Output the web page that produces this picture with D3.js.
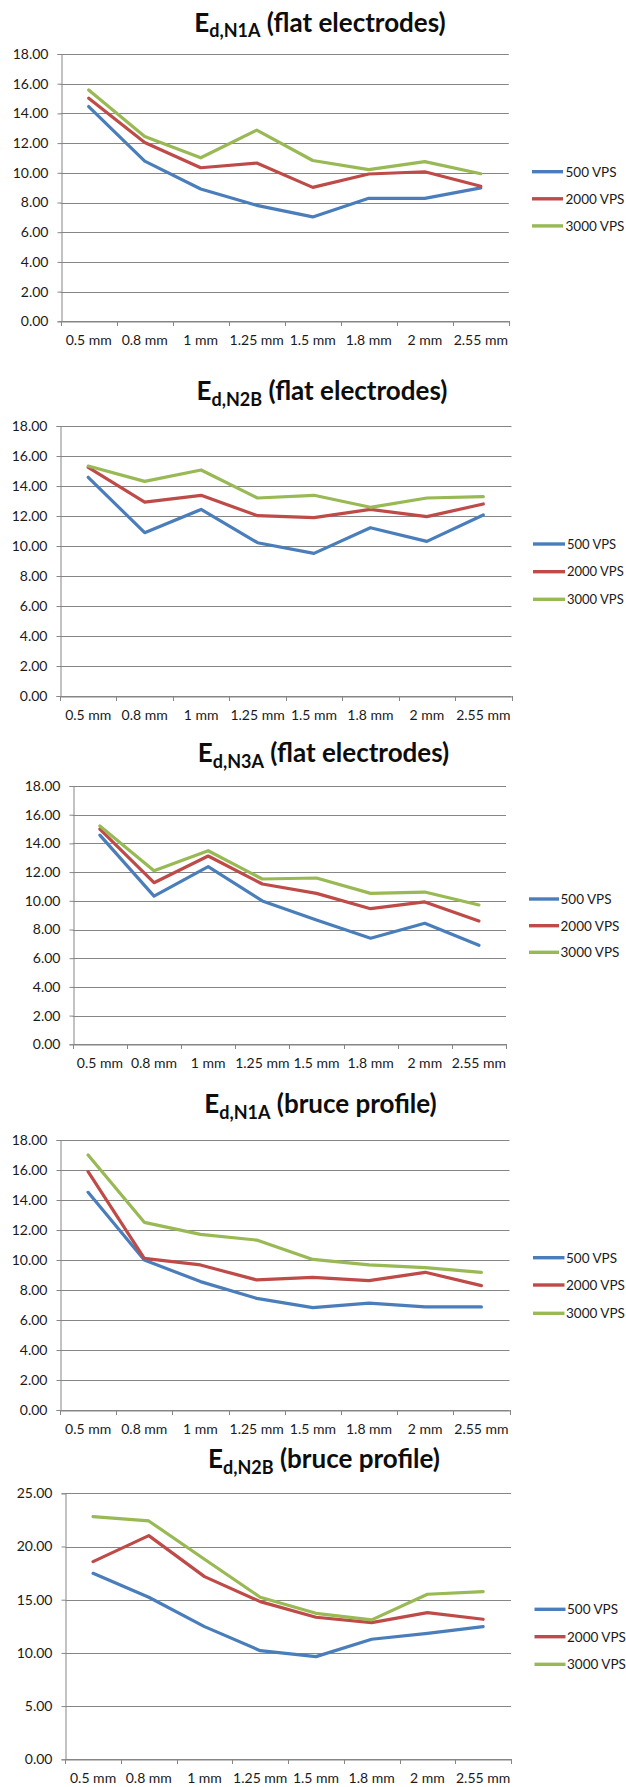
<!DOCTYPE html>
<html>
<head>
<meta charset="utf-8">
<script src="https://cdn.jsdelivr.net/npm/d3@7"></script>
<style>
  html, body { margin: 0; padding: 0; background: #ffffff; }
  svg { display: block; }
  text { font-family: Lato, "Open Sans", "Liberation Sans", sans-serif; fill: #1a1a1a; }
</style>
</head>
<body>
<svg id="fig" width="626" height="1787"></svg>
<script>
// Electrode spacing categories shared by every panel
const categories = ["0.5 mm", "0.8 mm", "1 mm", "1.25 mm", "1.5 mm", "1.8 mm", "2 mm", "2.55 mm"];
const seriesNames = ["500 VPS", "2000 VPS", "3000 VPS"];
const seriesColors = ["#4A7EBB", "#BE4B48", "#98B954"];

const ticks18 = [0, 2, 4, 6, 8, 10, 12, 14, 16, 18];
const ticks25 = [0, 5, 10, 15, 20, 25];

// E_d,N1A, flat electrodes
const flatN1A_500  = [14.46, 10.79, 8.91, 7.81, 7.03, 8.28, 8.28, 8.98];
const flatN1A_2000 = [15.02, 12.04, 10.34, 10.66, 9.02, 9.92, 10.07, 9.09];
const flatN1A_3000 = [15.58, 12.45, 11.01, 12.87, 10.83, 10.21, 10.75, 9.94];

// E_d,N2B, flat electrodes
const flatN2B_500  = [14.58, 10.89, 12.44, 10.22, 9.51, 11.22, 10.31, 12.07];
const flatN2B_2000 = [15.24, 12.93, 13.38, 12.02, 11.89, 12.44, 11.96, 12.80];
const flatN2B_3000 = [15.33, 14.31, 15.07, 13.20, 13.38, 12.58, 13.20, 13.29];

// E_d,N3A, flat electrodes
const flatN3A_500  = [14.58, 10.33, 12.38, 9.99, 8.66, 7.39, 8.43, 6.90];
const flatN3A_2000 = [15.00, 11.26, 13.12, 11.17, 10.52, 9.45, 9.92, 8.59];
const flatN3A_3000 = [15.21, 12.10, 13.49, 11.52, 11.59, 10.52, 10.61, 9.71];

// E_d,N1A, bruce profile
const bruceN1A_500  = [14.51, 10.00, 8.56, 7.44, 6.82, 7.13, 6.87, 6.87];
const bruceN1A_2000 = [15.89, 10.11, 9.67, 8.67, 8.84, 8.62, 9.18, 8.29];
const bruceN1A_3000 = [17.00, 12.51, 11.71, 11.33, 10.04, 9.67, 9.49, 9.18];

// E_d,N2B, bruce profile
const bruceN2B_500  = [17.48, 15.23, 12.47, 10.21, 9.65, 11.28, 11.84, 12.47];
const bruceN2B_2000 = [18.58, 21.02, 17.17, 14.82, 13.35, 12.84, 13.78, 13.16];
const bruceN2B_3000 = [22.81, 22.40, 18.80, 15.23, 13.72, 13.10, 15.51, 15.76];

const panels = [
  { sub: "d,N1A", rest: " (flat electrodes)", series: [flatN1A_500, flatN1A_2000, flatN1A_3000], ticks: ticks18,
    titleX: 320, titleY: 31.7, left: 60.7, right: 508.8, top: 54, bottom: 321.3,
    legX0: 532, legX1: 563, legText: 565.5, legSize: 13.5, legY: [171.7, 198.8, 225.9] },
  { sub: "d,N2B", rest: " (flat electrodes)", series: [flatN2B_500, flatN2B_2000, flatN2B_3000], ticks: ticks18,
    titleX: 322, titleY: 400, left: 60, right: 511.5, top: 426, bottom: 696,
    legX0: 533, legX1: 565, legText: 567, legSize: 13, legY: [544, 571.7, 599.3] },
  { sub: "d,N3A", rest: " (flat electrodes)", series: [flatN3A_500, flatN3A_2000, flatN3A_3000], ticks: ticks18,
    titleX: 323.5, titleY: 762.3, left: 72.8, right: 506, top: 786, bottom: 1044.3,
    legX0: 529, legX1: 559, legText: 560.5, legSize: 13.5, legY: [899, 925.7, 952.3] },
  { sub: "d,N1A", rest: " (bruce profile)", series: [bruceN1A_500, bruceN1A_2000, bruceN1A_3000], ticks: ticks18,
    titleX: 320.5, titleY: 1113.3, left: 60, right: 509.5, top: 1140, bottom: 1410,
    legX0: 533, legX1: 564.5, legText: 566, legSize: 13.5, legY: [1257.7, 1285, 1313.3] },
  { sub: "d,N2B", rest: " (bruce profile)", series: [bruceN2B_500, bruceN2B_2000, bruceN2B_3000], ticks: ticks25,
    titleX: 324, titleY: 1468.3, left: 65.2, right: 511, top: 1493.3, bottom: 1759.3,
    legX0: 534.5, legX1: 565.5, legText: 567, legSize: 13.5, legY: [1609.3, 1636.7, 1664.3] }
];

const svg = d3.select("#fig");
const gridColor = "#868686";
const fmt = d3.format(".2f");
const fontStack = "Lato, 'Open Sans', 'Liberation Sans', sans-serif";

panels.forEach(p => {
  const g = svg.append("g");
  const yMax = p.ticks[p.ticks.length - 1];

  const x = d3.scaleBand().domain(categories).range([p.left, p.right]).padding(0);
  const y = d3.scaleLinear().domain([0, yMax]).range([p.bottom, p.top]);

  // Title with subscript
  const title = g.append("text")
    .attr("x", p.titleX).attr("y", p.titleY)
    .attr("text-anchor", "middle")
    .style("font-weight", 700)
    .style("fill", "#0d0d0d");
  title.append("tspan").style("font-size", "26px").text("E");
  title.append("tspan").style("font-size", "18px").attr("dy", 5.5).text(p.sub);
  title.append("tspan").style("font-size", "26px").attr("dy", -5.5).text(p.rest);

  // Horizontal gridlines
  g.append("g").selectAll("line")
    .data(p.ticks)
    .join("line")
    .attr("x1", p.left).attr("x2", p.right)
    .attr("y1", d => Math.round(y(d)) + 0.5).attr("y2", d => Math.round(y(d)) + 0.5)
    .attr("stroke", gridColor).attr("stroke-width", 1);

  // Y axis
  const yAxis = g.append("g")
    .attr("transform", `translate(${Math.round(p.left) + 0.5},0)`)
    .call(d3.axisLeft(y).tickValues(p.ticks).tickFormat(fmt).tickSize(4).tickPadding(9));
  yAxis.select(".domain").attr("stroke", gridColor);
  yAxis.selectAll(".tick line").attr("stroke", gridColor);
  yAxis.selectAll(".tick text")
    .style("font-size", "14px")
    .style("font-family", fontStack)
    .attr("fill", "#1a1a1a");

  // X axis: labels centred in each category, tick marks on category boundaries
  const xAxis = g.append("g")
    .attr("transform", `translate(0,${Math.round(p.bottom) + 0.5})`)
    .call(d3.axisBottom(x).tickSize(0).tickPadding(14));
  xAxis.select(".domain").attr("stroke", gridColor);
  xAxis.selectAll(".tick text")
    .style("font-size", "14px")
    .style("font-family", fontStack)
    .attr("fill", "#1a1a1a");

  const bounds = categories.map(c => x(c)).concat([x.range()[1]]);
  g.append("g").selectAll("line")
    .data(bounds)
    .join("line")
    .attr("x1", d => Math.round(d) + 0.5).attr("x2", d => Math.round(d) + 0.5)
    .attr("y1", Math.round(p.bottom)).attr("y2", Math.round(p.bottom) + 5)
    .attr("stroke", gridColor).attr("stroke-width", 1);

  // Series lines
  const line = d3.line()
    .x((d, i) => x(categories[i]) + x.bandwidth() / 2)
    .y(d => y(d));

  p.series.forEach((vals, si) => {
    g.append("path")
      .datum(vals)
      .attr("d", line)
      .attr("fill", "none")
      .attr("stroke", seriesColors[si])
      .attr("stroke-width", 3.2)
      .attr("stroke-linejoin", "round")
      .attr("stroke-linecap", "round");
  });

  // Legend
  const leg = g.append("g");
  seriesNames.forEach((name, si) => {
    leg.append("line")
      .attr("x1", p.legX0).attr("x2", p.legX1)
      .attr("y1", p.legY[si]).attr("y2", p.legY[si])
      .attr("stroke", seriesColors[si]).attr("stroke-width", 3.4);
    leg.append("text")
      .attr("x", p.legText).attr("y", p.legY[si])
      .attr("dy", "0.36em")
      .style("font-size", p.legSize + "px")
      .text(name);
  });
});
</script>
</body>
</html>
